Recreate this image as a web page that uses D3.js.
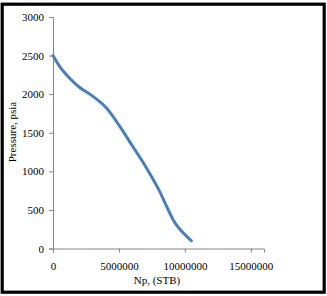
<!DOCTYPE html>
<html>
<head>
<meta charset="utf-8">
<script src="https://cdn.jsdelivr.net/npm/d3@7"></script>
<style>
  body { margin: 0; background: #fff; }
  svg text { font-family: "Liberation Serif", "Times New Roman", serif; }
</style>
</head>
<body>
<div id="chart"></div>
<script>
// cumulative oil production (STB) vs reservoir pressure (psia)
const npValues = [0, 500000, 1000000, 2000000, 3000000, 4000000, 5000000, 6000000, 7000000, 8000000, 9300000, 10500000];
const pressureValues = [2500, 2360, 2255, 2090, 1975, 1830, 1600, 1335, 1070, 770, 320, 100];
const xTicks = [0, 5000000, 10000000, 15000000];
const yTicks = [0, 500, 1000, 1500, 2000, 2500, 3000];

const width = 327;
const height = 296;
const margin = { top: 17, right: 64, bottom: 47.5, left: 53 };

const svg = d3.select('#chart')
  .append('svg')
  .attr('width', width)
  .attr('height', height);

// outer frame
svg.append('rect')
  .attr('x', 2.2)
  .attr('y', 4.2)
  .attr('width', 322)
  .attr('height', 288)
  .attr('fill', 'none')
  .attr('stroke', '#000')
  .attr('stroke-width', 3.2);

const x = d3.scaleLinear()
  .domain([0, 16000000])
  .range([margin.left, width - margin.right + 1]);

const y = d3.scaleLinear()
  .domain([0, 3000])
  .range([height - margin.bottom, margin.top]);

const axisColor = '#868686';

// x axis
const gx = svg.append('g')
  .attr('transform', `translate(0,${height - margin.bottom})`)
  .call(d3.axisBottom(x).tickValues(xTicks).tickSize(4).tickPadding(10).tickFormat(d3.format('d')));
gx.select('.domain').attr('stroke', axisColor);
gx.selectAll('.tick line').attr('stroke', axisColor);
gx.selectAll('.tick text').attr('fill', '#000').attr('font-size', 11);

// y axis
const gy = svg.append('g')
  .attr('transform', `translate(${margin.left},0)`)
  .call(d3.axisLeft(y).tickValues(yTicks).tickSize(4).tickPadding(5).tickFormat(d3.format('d')));
gy.select('.domain').attr('stroke', axisColor);
gy.selectAll('.tick line').attr('stroke', axisColor);
gy.selectAll('.tick text').attr('fill', '#000').attr('font-size', 11);

// axis titles
svg.append('text')
  .attr('x', 157)
  .attr('y', 284)
  .attr('text-anchor', 'middle')
  .attr('font-size', 11)
  .text('Np, (STB)');

svg.append('text')
  .attr('transform', 'translate(16,132) rotate(-90)')
  .attr('text-anchor', 'middle')
  .attr('font-size', 11)
  .text('Pressure, psia');

// the curve
const data = npValues.map((v, i) => ({ np: v, p: pressureValues[i] }));
svg.append('path')
  .datum(data)
  .attr('fill', 'none')
  .attr('stroke', '#4a7ebb')
  .attr('stroke-width', 3)
  .attr('stroke-linecap', 'round')
  .attr('d', d3.line()
    .x((d) => x(d.np))
    .y((d) => y(d.p))
    .curve(d3.curveCatmullRom));
</script>
</body>
</html>
